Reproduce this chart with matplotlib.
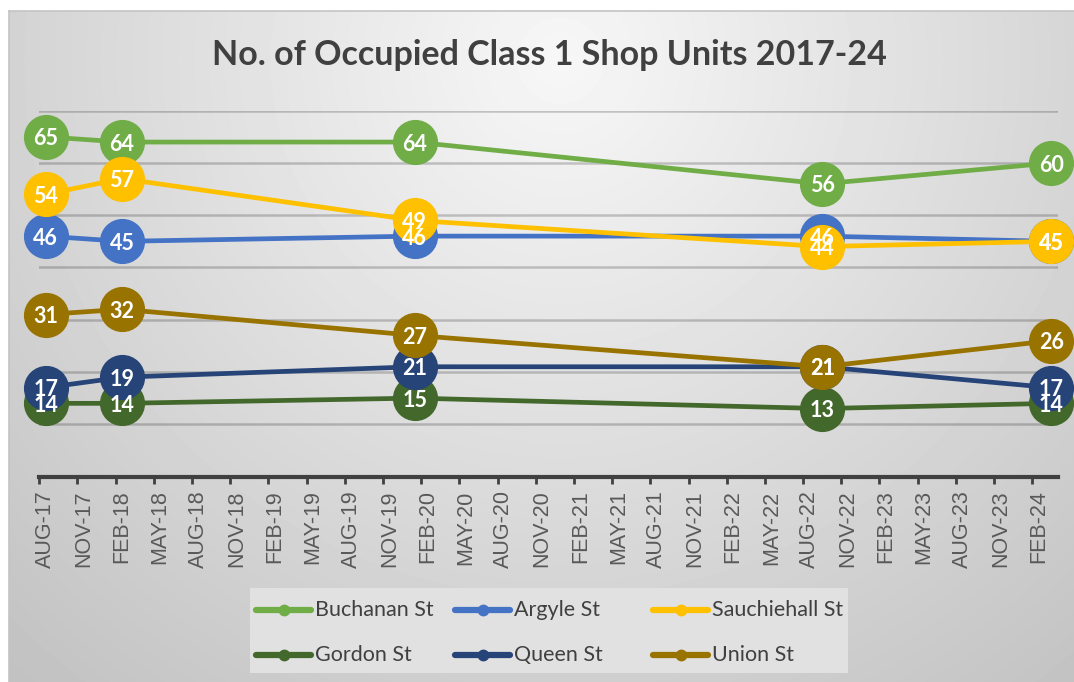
import matplotlib.pyplot as plt
import numpy as np
import pandas as pd

W, H = 1074, 682

# survey dates (month of each count) and counts per street
survey_months = ["2017-08", "2018-02", "2020-01", "2022-09", "2024-03"]
streets = ["Buchanan St", "Argyle St", "Sauchiehall St", "Gordon St", "Queen St", "Union St"]
buchanan = [65, 64, 64, 56, 60]
argyle = [46, 45, 46, 46, 45]
sauchiehall = [54, 57, 49, 44, 45]
gordon = [14, 14, 15, 13, 14]
queen = [17, 19, 21, 21, 17]
union = [31, 32, 27, 21, 26]
colours = ["#70AD47", "#4472C4", "#FFC000", "#43682B", "#264478", "#997300"]

tick_labels = ["AUG-17", "NOV-17", "FEB-18", "MAY-18", "AUG-18", "NOV-18", "FEB-19",
               "MAY-19", "AUG-19", "NOV-19", "FEB-20", "MAY-20", "AUG-20", "NOV-20",
               "FEB-21", "MAY-21", "AUG-21", "NOV-21", "FEB-22", "MAY-22", "AUG-22",
               "NOV-22", "FEB-23", "MAY-23", "AUG-23", "NOV-23", "FEB-24"]

title = "No. of Occupied Class 1 Shop Units 2017-24"

# month slots counted from Aug 2017, points sit in the middle of their month
start = pd.Period("2017-08", "M")
x = [(pd.Period(m, "M") - start).n + 0.5 for m in survey_months]
n_months = (pd.Period("2024-03", "M") - start).n + 1

fig = plt.figure(figsize=(W / 100, H / 100), dpi=100)
fig.patch.set_facecolor("white")

# radial grey background of the chart area
bg = fig.add_axes([9 / W, 0, 1 - 9 / W, 1 - 11 / H])
yy, xx = np.mgrid[11:H, 9:W]
d = np.clip(np.hypot(xx - 560, yy - 60) / 820, 0, 1)
shade = 0.968 - d * (0.968 - 0.76)
bg.imshow(shade, cmap="gray", vmin=0, vmax=1, extent=(9, W, H, 11),
          aspect="auto", interpolation="bilinear")
bg.set_xlim(9, W)
bg.set_ylim(H, 11)
bg.set_xticks([])
bg.set_yticks([])
for side in ["right", "bottom"]:
    bg.spines[side].set_visible(False)
for side in ["top", "left"]:
    bg.spines[side].set_color("#c4c4c4")
    bg.spines[side].set_linewidth(1.2)

# main plot
ax = fig.add_axes([39.3 / W, 1 - 476.5 / H, (1057.7 - 39.3) / W, (476.5 - 110.7) / H])
ax.set_facecolor("none")

series = [buchanan, argyle, sauchiehall, gordon, queen, union]
for i, (name, vals, col) in enumerate(zip(streets, series, colours)):
    ax.plot(x, vals, color=col, lw=3.4, marker="o", ms=31.5, mfc=col, mec=col,
            clip_on=False, zorder=3 + i, label=name)
    for xi, v in zip(x, vals):
        ax.text(xi, v - 0.4, str(v), ha="center", va="center", color="white",
                fontsize=15.5, fontweight="bold", family="Lato", zorder=30)

ax.set_xlim(0, n_months)
ax.set_ylim(0, 70)
ax.set_yticks(range(0, 80, 10))
ax.yaxis.grid(True, color="black", alpha=0.2, lw=1.8)
ax.set_axisbelow(True)
ax.tick_params(axis="y", length=0, labelleft=False)

for side in ["left", "right", "top"]:
    ax.spines[side].set_visible(False)
ax.spines["bottom"].set_color("#404040")
ax.spines["bottom"].set_linewidth(3)

ax.set_xticks(np.arange(len(tick_labels)) * 3)
ax.set_xticklabels([])
ax.tick_params(axis="x", which="major", length=5, width=2, color="#404040")
ax.set_xticks(np.arange(len(tick_labels)) * 3 + 0.5, minor=True)
ax.set_xticklabels(tick_labels, minor=True, rotation=90, family="Liberation Sans")
ax.tick_params(axis="x", which="minor", length=0, pad=10, labelsize=15.5, labelcolor="#595959")

fig.text(549 / W, 1 - 55 / H, title, ha="center", va="center", fontsize=24.5,
         fontweight="bold", color="#404040", family="Lato")

# legend box
lax = fig.add_axes([250 / W, 1 - 673 / H, 598 / W, 85 / H])
lax.set_facecolor("#e1e1e1")
lax.set_xlim(250, 848)
lax.set_ylim(673, 588)
lax.set_xticks([])
lax.set_yticks([])
for s in lax.spines.values():
    s.set_visible(False)
col_x = [256, 455, 653]
row_y = [610, 655]
for i, (name, col) in enumerate(zip(streets, colours)):
    cx = col_x[i % 3]
    ry = row_y[i // 3]
    lax.plot([cx, cx + 55], [ry, ry], color=col, lw=4.5, solid_capstyle="round")
    lax.plot([cx + 27.5], [ry], marker="o", ms=7.5, color=col)
    lax.text(cx + 59, ry, name, ha="left", va="center", fontsize=15.5,
             color="#404040", family="Lato")

fig.savefig("out.png", dpi=100)
